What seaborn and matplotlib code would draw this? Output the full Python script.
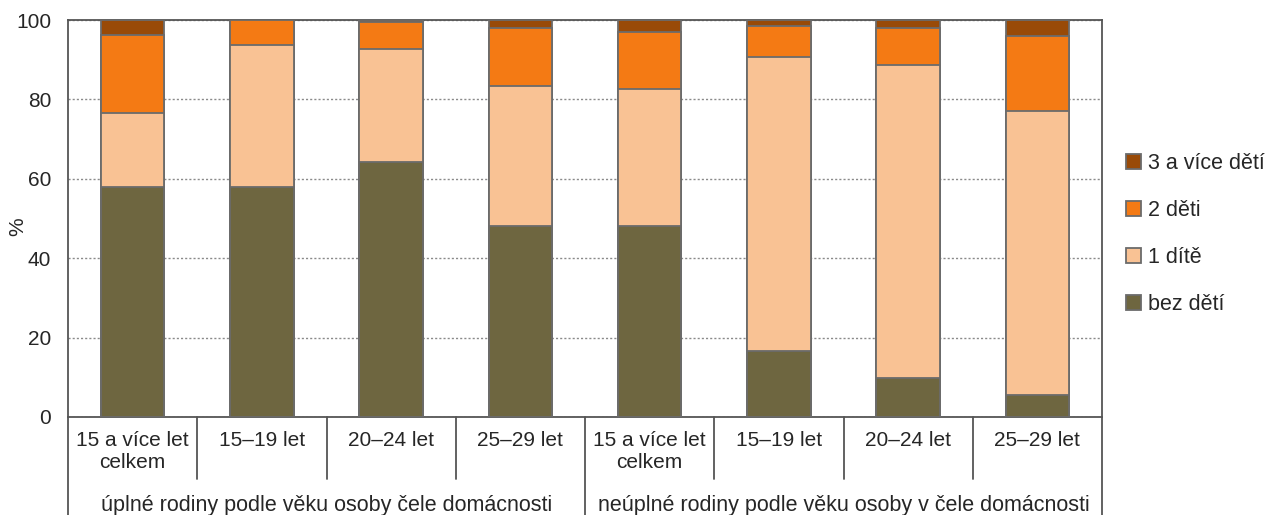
import matplotlib
matplotlib.use("Agg")
import matplotlib.pyplot as plt
import matplotlib.patches as mpatches
import matplotlib.transforms as mtransforms
import numpy as np
import pandas as pd
import seaborn as sns

# categories (two groups of four)
categories = ["15 a více let\ncelkem", "15–19 let", "20–24 let", "25–29 let",
              "15 a více let\ncelkem ", "15–19 let ", "20–24 let ", "25–29 let "]
groups = ["úplné rodiny podle věku osoby čele domácnosti",
          "neúplné rodiny podle věku osoby v čele domácnosti"]

# shares in % per category
bez_deti = [58.0, 58.0, 64.2, 48.1, 48.1, 16.6, 9.8, 5.5]
jedno_dite = [18.7, 35.7, 28.5, 35.3, 34.5, 74.1, 78.9, 71.6]
dve_deti = [19.5, 6.3, 6.8, 14.6, 14.4, 7.8, 9.3, 18.9]
tri_a_vice = [3.8, 0.0, 0.5, 2.0, 3.0, 1.5, 2.0, 4.0]

series_names = ["bez dětí", "1 dítě", "2 děti", "3 a více dětí"]
colors = ["#6E6640", "#F9C294", "#F47A14", "#994A07"]

sns.set_theme(style="white")
plt.rcParams["font.family"] = ["Liberation Sans", "DejaVu Sans"]
plt.rcParams["font.size"] = 15

df = pd.DataFrame({"cat": categories, "bez dětí": bez_deti, "1 dítě": jedno_dite,
                   "2 děti": dve_deti, "3 a více dětí": tri_a_vice})
cum = df[series_names].cumsum(axis=1)

fig = plt.figure(figsize=(12.68, 5.15), dpi=100)
ax = fig.add_axes([68 / 1268, 98 / 515, (1102 - 68) / 1268, 397 / 515])

# draw stacked bars from the top layer down
for name, col in reversed(list(zip(series_names, colors))):
    sns.barplot(x=df["cat"], y=cum[name], order=categories, color=col, width=0.49,
                edgecolor="#6b6b6b", linewidth=1.3, saturation=1, ax=ax, zorder=3)

ax.set_ylim(0, 100)
ax.set_xlim(-0.5, len(categories) - 0.5)
ax.set_yticks([0, 20, 40, 60, 80, 100])
ax.yaxis.grid(True, linestyle=(0, (1.5, 1.5)), color="#8a8a8a", linewidth=1)
ax.set_axisbelow(True)
ax.set_xticks([])
ax.set_xlabel("")
ax.set_ylabel("%", fontsize=15)
ax.yaxis.set_label_coords(-0.039, 0.48)
ax.tick_params(axis="y", length=4, width=1, color="#555555", pad=8, labelsize=15)
for s in ax.spines.values():
    s.set_color("#555555")
    s.set_linewidth(1.3)

# multi-level category axis
trans = mtransforms.blended_transform_factory(ax.transData, ax.transAxes)
for i, c in enumerate(categories):
    ax.text(i, -0.036, c.strip(), transform=trans, ha="center", va="top",
            fontsize=15, linespacing=1.2)
for b in [0.5, 1.5, 2.5, 4.5, 5.5, 6.5]:
    ax.plot([b, b], [0, -0.155], transform=trans, color="#555555", lw=1.3, clip_on=False)
for b in [-0.5, 3.5, 7.5]:
    ax.plot([b, b], [0, -0.26], transform=trans, color="#555555", lw=1.3, clip_on=False)
for g, x in zip(groups, [1.5, 5.5]):
    ax.text(x, -0.222, g, transform=trans, ha="center", va="center", fontsize=15.5)

handles = [mpatches.Patch(facecolor=c, edgecolor="#6b6b6b", linewidth=1.3, label=n)
           for n, c in zip(series_names, colors)]
fig.legend(handles=handles[::-1], loc="center left", bbox_to_anchor=(1126 / 1268, 1 - 234 / 515),
           frameon=False, borderpad=0, borderaxespad=0, handlelength=0.7, handleheight=0.7,
           handletextpad=0.3, labelspacing=1.2, fontsize=15.5)

fig.savefig("out.png", dpi=100)
